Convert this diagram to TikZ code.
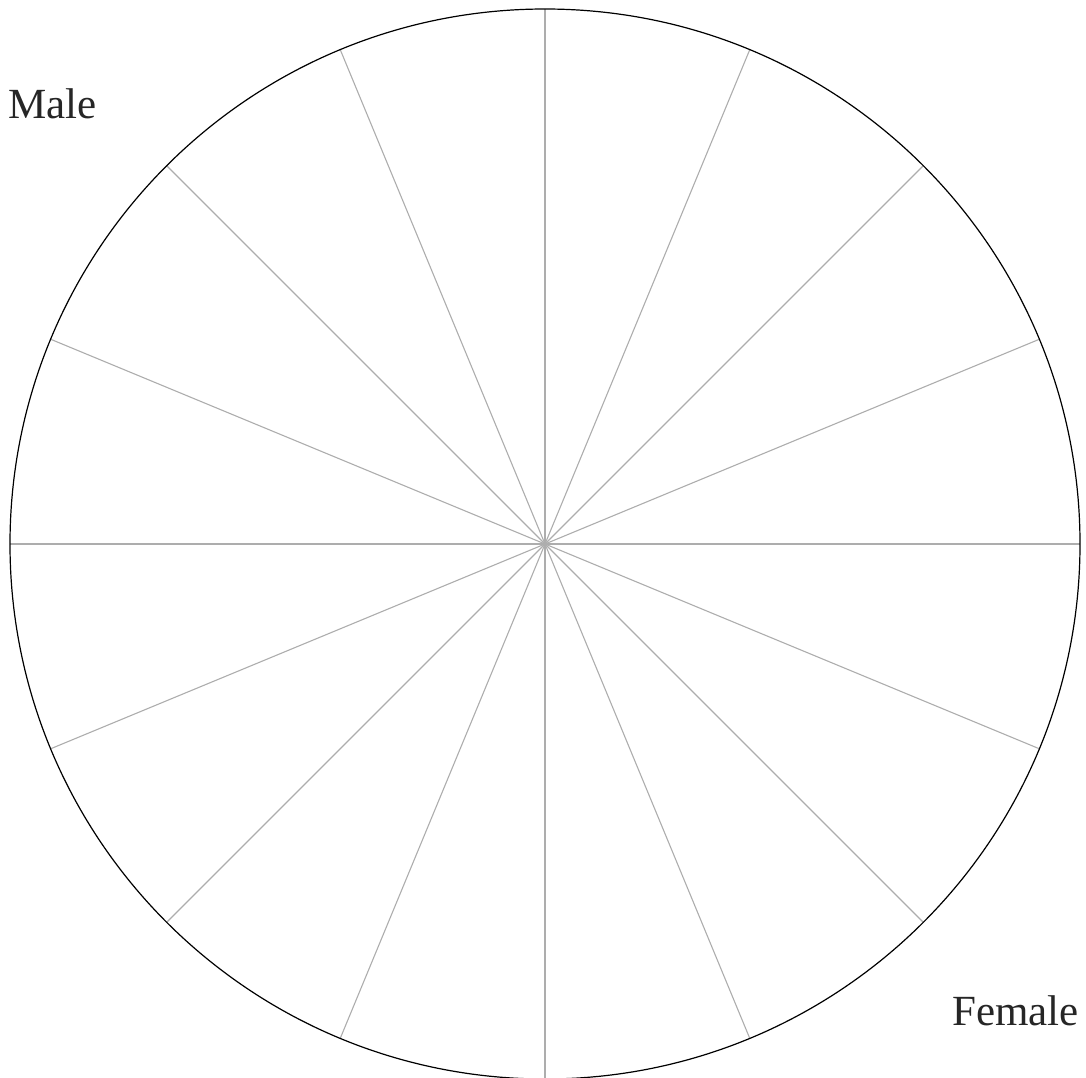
\documentclass[tikz,border=0pt]{standalone}
\usepackage{fontspec}
\setmainfont{Liberation Serif}
\usepackage{tikz}
\usetikzlibrary{positioning}

\begin{document}
\begin{tikzpicture}[
  x=1pt, y=-1pt,
  rim/.style={draw=black, line width=1.2pt},
  spoke/.style={draw=black!32, line width=1.1pt},
  lbl/.style={inner sep=0pt, text=black!85, font=\fontsize{43}{50}\selectfont}
]
\useasboundingbox (0,0) rectangle (1086,1077);

% wheel of sixteen spokes
\coordinate (hub) at (545,544);
\foreach \ang in {0,22.5,...,337.5}
  \draw[spoke] (hub) -- ++(\ang:535);
\draw[rim] (hub) circle[radius=535];

\node[lbl, anchor=base west] (male)   at (8,118)    {Male};
\node[lbl, anchor=base east] (female) at (1079,1025) {Female};

\end{tikzpicture}
\end{document}
